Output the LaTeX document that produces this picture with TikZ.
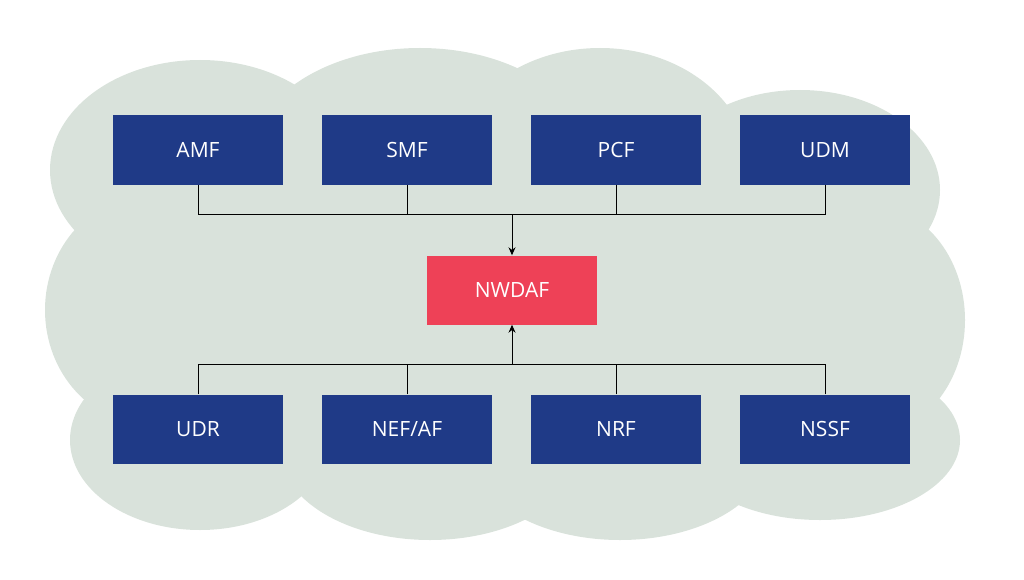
\documentclass[tikz,border=0pt]{standalone}
\usepackage{fontspec}
\setmainfont{Open Sans}
\usetikzlibrary{arrows.meta}
\definecolor{cloud}{HTML}{D9E2DB}
\definecolor{navy}{HTML}{1F3A87}
\definecolor{nred}{HTML}{EE4157}
\begin{document}
\begin{tikzpicture}[x=1pt,y=-1pt,
 box/.style={draw=none,fill=navy,text=white,minimum width=170pt,minimum height=69pt,inner sep=0pt,font=\fontsize{21}{21}\selectfont},
 line/.style={black,line width=1pt}]
\useasboundingbox (0,0) rectangle (1024,580);
\begin{scope}[fill=cloud]
\fill (100,160) rectangle (915,470);
\fill (200,170) ellipse [x radius=150,y radius=110];
\fill (420,160) ellipse [x radius=170,y radius=112];
\fill (600,170) ellipse [x radius=150,y radius=122];
\fill (800,190) ellipse [x radius=140,y radius=100];
\fill (150,310) ellipse [x radius=105,y radius=115];
\fill (870,320) ellipse [x radius=95,y radius=115];
\fill (200,440) ellipse [x radius=130,y radius=90];
\fill (430,450) ellipse [x radius=150,y radius=90];
\fill (620,450) ellipse [x radius=150,y radius=90];
\fill (820,440) ellipse [x radius=140,y radius=80];
\end{scope}
\node[box] (amf) at (198,150) {AMF};
\node[box] (smf) at (407,150) {SMF};
\node[box] (pcf) at (616,150) {PCF};
\node[box] (udm) at (825,150) {UDM};
\node[box,fill=nred] (nw) at (512,290) {NWDAF};
\node[box] (udr) at (198,429) {UDR};
\node[box] (nef) at (407,429) {NEF/AF};
\node[box] (nrf) at (616,429) {NRF};
\node[box] (nssf) at (825,429) {NSSF};
\coordinate (t) at (512,214);
\coordinate (b) at (512,364);
\draw[line] (amf.south) |- (t);
\draw[line] (udm.south) |- (t);
\draw[line] (smf.south) |- (t);
\draw[line] (pcf.south) |- (t);
\draw[line,-{Stealth[length=8pt,width=7pt]}] (t) -- (nw.north);
\draw[line] (udr.north) |- (b);
\draw[line] (nssf.north) |- (b);
\draw[line] (nef.north) |- (b);
\draw[line] (nrf.north) |- (b);
\draw[line,-{Stealth[length=8pt,width=7pt]}] (b) -- (nw.south);
\end{tikzpicture}
\end{document}
